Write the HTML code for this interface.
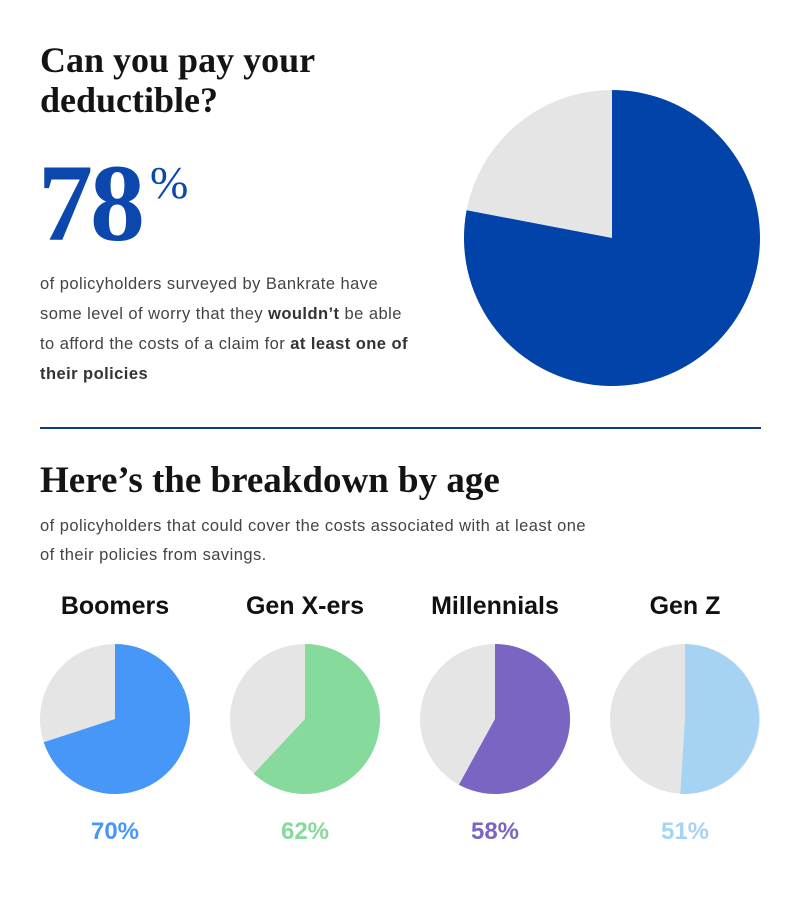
<!DOCTYPE html>
<html><head><meta charset="utf-8"><style>
body{margin:0;width:800px;height:902px;background:#fff;position:relative;overflow:hidden;font-family:"Liberation Sans",sans-serif}
.a{position:absolute;white-space:nowrap}
.serif{font-family:"Liberation Serif","DejaVu Serif",serif;font-weight:bold;color:#141414}
.body{font-size:16.5px;color:#444;line-height:30px;letter-spacing:0.45px}
.body b{color:#333}
.lab{font-size:25px;font-weight:bold;color:#111;width:190px;text-align:center}
.pct{font-size:24px;font-weight:bold;width:190px;text-align:center}
</style></head><body>
<div class="a serif" style="left:40px;top:40px;font-size:36px;line-height:40px;letter-spacing:0px">Can you pay your<br>deductible?</div>
<div class="a serif" style="left:38px;top:146px;font-size:110px;line-height:114px;color:#0b47ad;letter-spacing:-3px">78</div>
<div class="a serif" style="left:150px;top:158px;font-size:46px;line-height:50px;color:#0b47ad;font-weight:normal">%</div>
<div class="a body" style="left:40px;top:269px">of policyholders surveyed by Bankrate have<br>some level of worry that they <b>wouldn’t</b> be able<br>to afford the costs of a claim for <b>at least one of</b><br><b>their policies</b></div>
<div class="a" style="left:40px;top:427px;width:721px;height:2px;background:#0d3b8c"></div>
<div class="a serif" style="left:40px;top:460px;font-size:37px;line-height:42px;letter-spacing:0px">Here’s the breakdown by age</div>
<div class="a body" style="left:40px;top:512px;line-height:29px">of policyholders that could cover the costs associated with at least one<br>of their policies from savings.</div>
<div class="a lab" style="left:20px;top:592px">Boomers</div>
<div class="a lab" style="left:210px;top:592px">Gen X-ers</div>
<div class="a lab" style="left:400px;top:592px">Millennials</div>
<div class="a lab" style="left:590px;top:592px">Gen Z</div>
<div class="a pct" style="left:20px;top:818px;color:#4797f8">70%</div>
<div class="a pct" style="left:210px;top:818px;color:#86da9b">62%</div>
<div class="a pct" style="left:400px;top:818px;color:#7b65c2">58%</div>
<div class="a pct" style="left:590px;top:818px;color:#a6d3f3">51%</div>
<svg class="a" style="left:0;top:0" width="800" height="902">
<circle cx="612" cy="238" r="148" fill="#e5e5e5"/>
<path d="M612 238 L612 90 A148 148 0 1 1 466.6 210.3 Z" fill="#0143a8"/>
<circle cx="115" cy="719" r="75" fill="#e5e5e5"/>
<path d="M115 719 L115 644 A75 75 0 1 1 43.7 742.2 Z" fill="#4797f8"/>
<circle cx="305" cy="719" r="75" fill="#e5e5e5"/>
<path d="M305 719 L305 644 A75 75 0 1 1 253.7 773.7 Z" fill="#86da9b"/>
<circle cx="495" cy="719" r="75" fill="#e5e5e5"/>
<path d="M495 719 L495 644 A75 75 0 1 1 458.9 784.7 Z" fill="#7b65c2"/>
<circle cx="685" cy="719" r="75" fill="#e5e5e5"/>
<path d="M685 719 L685 644 A75 75 0 1 1 680.3 793.9 Z" fill="#a6d3f3"/>
</svg>
</body></html>
